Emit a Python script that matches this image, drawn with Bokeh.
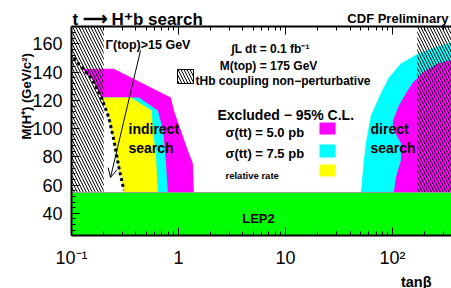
import math
from bokeh.plotting import figure
from bokeh.models import Range1d, FixedTicker, LogAxis, Label, Arrow, OpenHead
from bokeh.embed import file_html
from bokeh.resources import INLINE

# ---------------- data ----------------
x_lo, x_hi = 0.1, 355.0          # tan(beta) axis limits (right end at picture edge)
y_lo, y_hi = 24.3, 172.4         # M(H+) axis limits
x_ticks = [0.1, 1, 10, 100]
x_tick_labels = ["10\u207b\u00b9", "1", "10", "10\u00b2"]
y_ticks = [40, 60, 80, 100, 120, 140, 160]

lep2_limit = 54.8          # LEP2 excluded below this mass
tHb_low = 0.2              # tHb coupling non-perturbative below
tHb_high = 170.0           # ... and above

# Gamma(top) > 15 GeV contour (dotted)
gamma_tb = [0.105, 0.125, 0.155, 0.192, 0.223, 0.249, 0.277, 0.308]
gamma_m = [150.3, 143.2, 135.5, 121.4, 107.9, 91.7, 72.7, 56.5]

# indirect search, sigma(tt)=5.0 pb (outer edge, top -> bottom)
ind50_tb = [0.125, 0.248, 0.847, 0.904, 1.05, 1.22, 1.36, 1.39]
ind50_m = [142.5, 142.5, 122.1, 112.9, 98.8, 84.7, 75.5, 55.0]
# indirect search, sigma(tt)=7.5 pb
ind75_tb = [0.192, 0.426, 0.641, 0.716, 0.760, 0.794]
ind75_m = [122.1, 122.1, 112.9, 98.8, 77.6, 55.0]
# indirect search, relative rate
indrr_tb = [0.192, 0.358, 0.562, 0.575, 0.614, 0.641]
indrr_m = [122.1, 122.1, 112.9, 98.8, 82.6, 55.0]

# direct search, sigma(tt)=7.5 pb (inner edge, bottom -> top)
dir75_tb = [50.6, 53.9, 56.3, 62.7, 74.5, 92.3, 119.6, 172, 243, 301, 355]
dir75_m = [55.0, 77.6, 89.6, 109.4, 122.1, 136.2, 146.1, 153.1, 157.4, 159.5, 161.0]
# direct search, sigma(tt)=5.0 pb
dir50_tb = [102.9, 107.4, 119.6, 119.6, 100.7, 100.7, 114.6, 133, 155, 192, 254, 301, 355]
dir50_m = [55.0, 65.6, 77.6, 89.6, 100.2, 105.8, 116.4, 124.9, 132.7, 139.7, 145.4, 147.5, 148.5]

MAGENTA = "#ff00ff"
CYAN = "#00ffff"
YELLOW = "#ffff00"
GREEN = "#00ff00"
FONT = "Liberation Sans"

# ---------------- layout geometry (page px) ----------------
W, H = 451, 288                 # canvas, placed at (0, 0)
CX0, CX1, CY0, CY1 = 0, W, 0, H
PX0, PX1, PY0, PY1 = 71, 451, 26, 235   # plotting area inside the canvas

lx_lo, lx_hi = math.log10(x_lo), math.log10(x_hi)
dec = (PX1 - PX0) / (lx_hi - lx_lo)
gev = (PY1 - PY0) / (y_hi - y_lo)
fx_lo = 10 ** (lx_lo - (PX0 - CX0) / dec)
fx_hi = 10 ** (lx_hi + (CX1 - PX1) / dec)
fy_lo = y_lo - (CY1 - PY1) / gev
fy_hi = y_hi + (PY0 - CY0) / gev


def at(px, py):
    return 10 ** (lx_lo + (px - PX0) / dec), y_hi - (py - PY0) / gev


p = figure(width=W, height=H, x_axis_type="log",
           x_range=Range1d(fx_lo, fx_hi), y_range=Range1d(fy_lo, fy_hi),
           output_backend="svg", toolbar_location=None,
           min_border_left=0, min_border_right=0, min_border_top=0, min_border_bottom=0)
p.outline_line_color = None
p.grid.visible = False
p.title.visible = False
p.background_fill_color = "white"
p.border_fill_color = "white"

# ---------------- regions ----------------


def below_gamma(mmax):
    pts = [(t, m) for t, m in zip(gamma_tb, gamma_m) if m < mmax]
    return pts[::-1]


def indirect_patch(tb, m):
    xs = list(tb) + [tb[-1], gamma_tb[-1]]
    ys = list(m) + [30, 30]
    for t, mm in below_gamma(m[0]):
        xs.append(t)
        ys.append(mm)
    return xs, ys


for tb, m, col in [(ind50_tb, ind50_m, MAGENTA), (ind75_tb, ind75_m, CYAN),
                   (indrr_tb, indrr_m, YELLOW)]:
    xs, ys = indirect_patch(tb, m)
    p.patch(xs, ys, fill_color=col, line_color=None)

for tb, m, col in [(dir75_tb, dir75_m, CYAN), (dir50_tb, dir50_m, MAGENTA)]:
    xs = list(tb) + [x_hi, tb[0]]
    ys = list(m) + [30, 30]
    p.patch(xs, ys, fill_color=col, line_color=None)

# non-perturbative hatched regions
p.quad(left=[x_lo, tHb_high], right=[tHb_low, x_hi], bottom=lep2_limit, top=y_hi,
       fill_color=None, line_color=None, hatch_pattern="\\", hatch_color="black",
       hatch_scale=6, hatch_weight=1)

# Gamma(top) contour
p.line(gamma_tb, gamma_m, line_color="black", line_width=3, line_dash="3 3")

# LEP2
p.quad(left=x_lo, right=x_hi, bottom=y_lo, top=lep2_limit, fill_color=GREEN,
       line_color="#9a9a9a", line_width=1)

# ---------------- axes (drawn at the plotting-area edges) ----------------
x_minor = [k * 10 ** e for e in (-1, 0, 1, 2) for k in range(2, 10) if k * 10 ** e < x_hi]
xt = FixedTicker(ticks=x_ticks, minor_ticks=x_minor)
yt = FixedTicker(ticks=y_ticks, minor_ticks=list(range(28, 172, 4)))

bottom = p.xaxis[0]
left = p.yaxis[0]
bottom.ticker = xt
left.ticker = yt
bottom.major_label_overrides = {t: l for t, l in zip(x_ticks, x_tick_labels)}
bottom.fixed_location = y_lo
left.fixed_location = x_lo
bottom.bounds = (x_lo, x_hi)
left.bounds = (y_lo, y_hi)

top = LogAxis(ticker=xt, fixed_location=y_hi, bounds=(x_lo, x_hi),
              major_label_text_color=None)
p.add_layout(top, "above")

for ax in [bottom, left, top]:
    ax.axis_line_width = 2
    ax.axis_line_color = "black"
    ax.major_tick_in = 8
    ax.major_tick_out = 0
    ax.minor_tick_in = 4
    ax.minor_tick_out = 0
    ax.major_tick_line_color = "black"
    ax.minor_tick_line_color = "black"

for ax in [bottom, left]:
    ax.major_label_text_font = FONT
    ax.major_label_text_font_size = "18px"
    ax.major_label_text_color = "black"
bottom.major_label_standoff = 12
left.major_label_standoff = 9

# ---------------- texts ----------------


def lab(text, px, py, size, bold=True, align="left", angle=0.0, baseline="alphabetic"):
    x, y = at(px, py)
    p.add_layout(Label(x=x, y=y, text=text, text_font=FONT, text_font_size=f"{size}px",
                       text_font_style="bold" if bold else "normal", text_align=align,
                       text_baseline=baseline, angle=angle, text_color="black"))


lab("t \u27f6 H\u207ab search", 72, 19, 17)
lab("CDF Preliminary", 448, 18, 13, align="right")
lab("M(H\u207a)  (GeV/c\u00b2)", 26, 94, 13, align="center", angle=math.pi / 2)
lab("tan\u03b2", 431, 281, 14.5, align="right")
lab("\u0393(top)>15 GeV", 105, 44, 12.5)
lab("\u222bL dt = 0.1 fb\u207b\u00b9", 270, 48, 12, align="center")
lab("M(top) = 175 GeV", 268, 65, 12, align="center")
lab("tHb coupling non\u2212perturbative", 195, 80, 12)
lab("Excluded \u2212 95% C.L.", 217, 114, 14)
lab("\u03c3(tt) = 5.0 pb", 225, 132, 13)
lab("\u03c3(tt) = 7.5 pb", 225, 153, 13)
lab("relative rate", 225, 175, 9.5)
lab("indirect", 128, 128, 14)
lab("search", 128, 147, 14)
lab("direct", 370, 128, 14)
lab("search", 370, 147, 14)
lab("LEP2", 258, 218, 13, align="center")

# legend swatches
for (py0, py1), col in [((122, 134), MAGENTA), ((144, 157), CYAN), ((164, 176), YELLOW)]:
    x0, y0 = at(319, py1)
    x1, y1 = at(335, py0)
    p.quad(left=x0, right=x1, bottom=y0, top=y1, fill_color=col, line_color=None)
hx0, hy0 = at(177, 83)
hx1, hy1 = at(193, 69)
p.quad(left=hx0, right=hx1, bottom=hy0, top=hy1, fill_color="white", line_color="black",
       line_width=1, hatch_pattern="\\", hatch_color="black", hatch_scale=6, hatch_weight=1)

# arrow for Gamma(top) label
ax0, ay0 = at(140, 50)
ax1, ay1 = at(110, 177)
p.add_layout(Arrow(end=OpenHead(size=9, line_width=1), x_start=ax0, y_start=ay0,
                   x_end=ax1, y_end=ay1, line_width=1, line_color="black"))

open("out.html", "w").write(file_html(p, INLINE))
